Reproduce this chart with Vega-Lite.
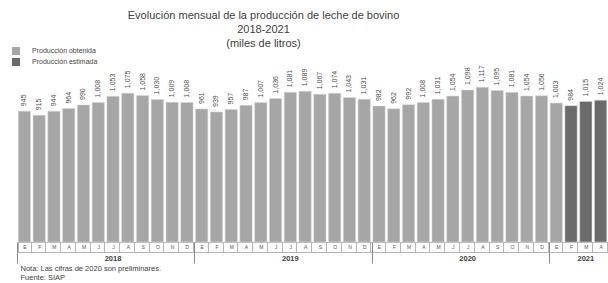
{
  "$schema": "https://vega.github.io/schema/vega-lite/v6.json",
  "autosize": {"type": "none"},
  "width": 591,
  "height": 180,
  "padding": {"left": 17, "top": 62, "right": 0, "bottom": 41},
  "background": "white",
  "config": {"font": "Liberation Sans", "view": {"stroke": null}},
  "title": {
    "text": ["Evolución mensual de la producción de leche de bovino", "2018-2021", "(miles de litros)"],
    "fontSize": 11, "fontWeight": "normal", "color": "#404040", "lineHeight": 14,
    "anchor": "middle", "frame": "group", "dx": -49, "offset": -2
  },
  "data": {"values": [
    {"t": "2018-01", "v": 945, "estado": "Producción obtenida"},
    {"t": "2018-02", "v": 915, "estado": "Producción obtenida"},
    {"t": "2018-03", "v": 944, "estado": "Producción obtenida"},
    {"t": "2018-04", "v": 964, "estado": "Producción obtenida"},
    {"t": "2018-05", "v": 990, "estado": "Producción obtenida"},
    {"t": "2018-06", "v": 1008, "estado": "Producción obtenida"},
    {"t": "2018-07", "v": 1053, "estado": "Producción obtenida"},
    {"t": "2018-08", "v": 1075, "estado": "Producción obtenida"},
    {"t": "2018-09", "v": 1058, "estado": "Producción obtenida"},
    {"t": "2018-10", "v": 1030, "estado": "Producción obtenida"},
    {"t": "2018-11", "v": 1009, "estado": "Producción obtenida"},
    {"t": "2018-12", "v": 1008, "estado": "Producción obtenida"},
    {"t": "2019-01", "v": 961, "estado": "Producción obtenida"},
    {"t": "2019-02", "v": 939, "estado": "Producción obtenida"},
    {"t": "2019-03", "v": 957, "estado": "Producción obtenida"},
    {"t": "2019-04", "v": 987, "estado": "Producción obtenida"},
    {"t": "2019-05", "v": 1007, "estado": "Producción obtenida"},
    {"t": "2019-06", "v": 1036, "estado": "Producción obtenida"},
    {"t": "2019-07", "v": 1081, "estado": "Producción obtenida"},
    {"t": "2019-08", "v": 1089, "estado": "Producción obtenida"},
    {"t": "2019-09", "v": 1067, "estado": "Producción obtenida"},
    {"t": "2019-10", "v": 1074, "estado": "Producción obtenida"},
    {"t": "2019-11", "v": 1043, "estado": "Producción obtenida"},
    {"t": "2019-12", "v": 1031, "estado": "Producción obtenida"},
    {"t": "2020-01", "v": 982, "estado": "Producción obtenida"},
    {"t": "2020-02", "v": 962, "estado": "Producción obtenida"},
    {"t": "2020-03", "v": 992, "estado": "Producción obtenida"},
    {"t": "2020-04", "v": 1008, "estado": "Producción obtenida"},
    {"t": "2020-05", "v": 1031, "estado": "Producción obtenida"},
    {"t": "2020-06", "v": 1054, "estado": "Producción obtenida"},
    {"t": "2020-07", "v": 1098, "estado": "Producción obtenida"},
    {"t": "2020-08", "v": 1117, "estado": "Producción obtenida"},
    {"t": "2020-09", "v": 1095, "estado": "Producción obtenida"},
    {"t": "2020-10", "v": 1081, "estado": "Producción obtenida"},
    {"t": "2020-11", "v": 1054, "estado": "Producción obtenida"},
    {"t": "2020-12", "v": 1056, "estado": "Producción obtenida"},
    {"t": "2021-01", "v": 1003, "estado": "Producción obtenida"},
    {"t": "2021-02", "v": 984, "estado": "Producción estimada"},
    {"t": "2021-03", "v": 1015, "estado": "Producción estimada"},
    {"t": "2021-04", "v": 1024, "estado": "Producción estimada"}
  ]},
  "resolve": {"axis": {"x": "independent"}},
  "layer": [
    {
      "mark": {"type": "bar", "stroke": "#d8d8d8", "strokeWidth": 0.5},
      "encoding": {
        "x": {"field": "t", "type": "ordinal", "sort": "ascending",
          "scale": {"paddingInner": 0.17, "paddingOuter": 0.085},
          "axis": {"orient": "bottom", "title": null, "domain": true, "domainColor": "#b5b5b5",
            "ticks": true, "tickBand": "extent", "tickSize": 10, "tickColor": "#b5b5b5",
            "labelAngle": 0, "labelFontSize": 5, "labelColor": "#555", "labelPadding": -8,
            "labelExpr": "isString(datum.value) ? ['E','F','M','A','M','J','J','A','S','O','N','D'][toNumber(slice(datum.value,5)) - 1] : ''",
            "grid": false}},
        "y": {"field": "v", "type": "quantitative", "scale": {"domain": [0, 1250]}, "axis": null},
        "color": {"field": "estado", "type": "nominal",
          "scale": {"domain": ["Producción obtenida", "Producción estimada"], "range": ["#a6a6a6", "#6b6b6b"]},
          "legend": {"orient": "none", "legendX": -5, "legendY": -15, "title": null,
            "symbolType": "square", "symbolSize": 64, "symbolStrokeWidth": 0,
            "labelFontSize": 7, "labelColor": "#444", "rowPadding": 3, "labelOffset": 12}}
      }
    },
    {
      "mark": {"type": "text", "angle": 270, "align": "left", "baseline": "middle", "dx": 5, "fontSize": 7, "color": "#4a4a4a"},
      "encoding": {
        "x": {"field": "t", "type": "ordinal", "sort": "ascending",
          "axis": {"orient": "bottom", "offset": 10, "domain": true, "domainColor": "#b5b5b5",
            "ticks": false, "labels": false, "grid": false,
            "title": ["Nota: Las cifras de 2020 son preliminares.", "Fuente: SIAP"],
            "titleFontSize": 7.5, "titleFontWeight": "normal", "titleColor": "#404040",
            "titleAnchor": "start", "titleAlign": "left", "titleBaseline": "top",
            "titleX": 3, "titleY": 12.5, "titleLineHeight": 9}},
        "y": {"field": "v", "type": "quantitative"},
        "text": {"field": "v", "type": "quantitative", "format": ",d"}
      }
    },
    {
      "mark": {"type": "rule", "strokeOpacity": 0},
      "encoding": {
        "x": {"field": "t", "type": "ordinal", "sort": "ascending",
          "axis": {"orient": "bottom", "values": ["2018-01", "2019-01", "2020-01", "2021-01"],
            "bandPosition": 0, "tickOffset": -1.3, "domain": false, "labels": false, "grid": false,
            "ticks": true, "tickSize": 21, "tickColor": "#8a8a8a", "title": null}}
      }
    },
    {
      "mark": {"type": "rule", "strokeOpacity": 0},
      "encoding": {
        "x": {"field": "t", "type": "ordinal", "sort": "ascending",
          "axis": {"orient": "bottom", "values": ["2018-07", "2019-07", "2020-07", "2021-03"],
            "bandPosition": 0, "domain": false, "ticks": false, "tickSize": 0, "grid": false,
            "labelAngle": 0, "labelPadding": 12, "labelFontSize": 7.5, "labelFontWeight": "bold",
            "labelColor": "#404040", "labelExpr": "isString(datum.value) ? slice(datum.value, 0, 4) : ''", "title": null}}
      }
    }
  ]
}
